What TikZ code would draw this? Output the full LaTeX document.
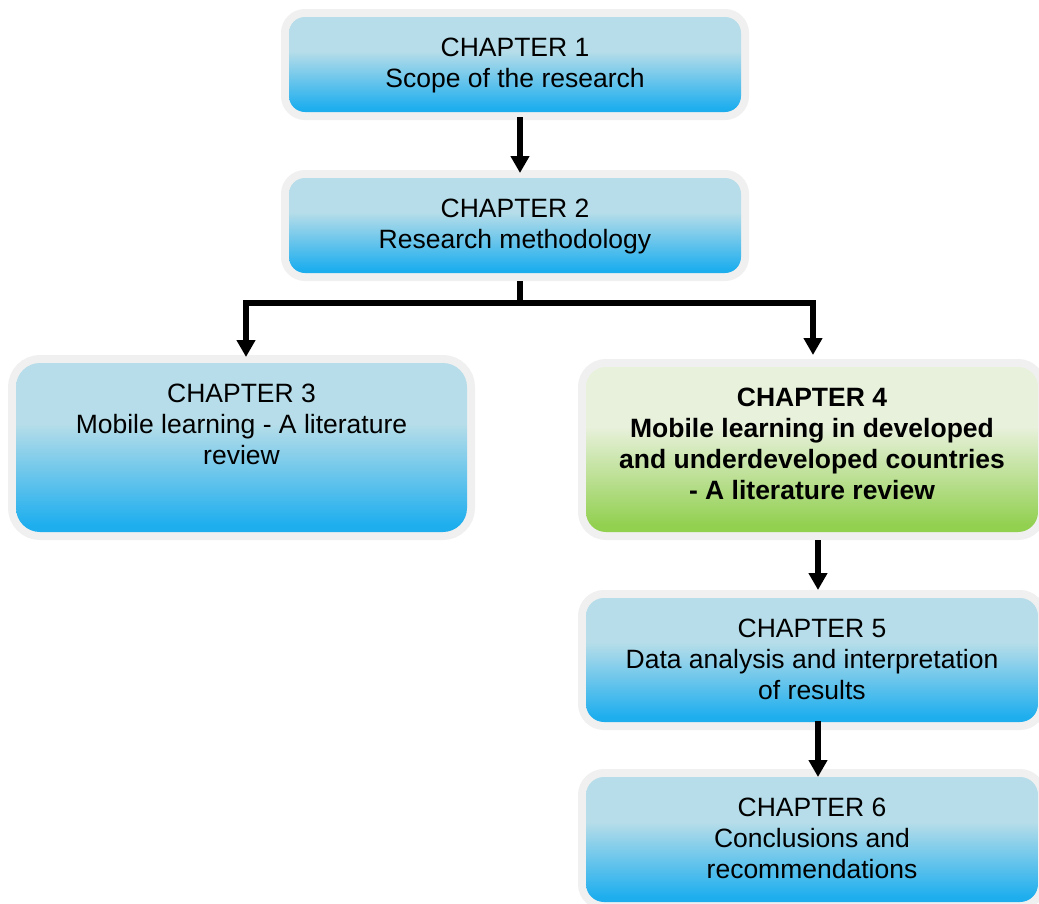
\documentclass[tikz,border=0pt]{standalone}
\usepackage{fontspec}
\setmainfont{Liberation Sans}
\usetikzlibrary{arrows.meta,calc}

\definecolor{bluetop}{RGB}{182,221,233}
\definecolor{bluebot}{RGB}{30,174,238}
\definecolor{greentop}{RGB}{232,241,220}
\definecolor{greenbot}{RGB}{146,208,80}
\definecolor{halo}{RGB}{240,240,240}

% vertical fills: pale upper part, stronger colour towards the bottom
\pgfdeclareverticalshading{blueshade}{100bp}{color(0bp)=(bluebot); color(27bp)=(bluebot); color(57bp)=(bluetop); color(100bp)=(bluetop)}
\pgfdeclareverticalshading{greenshade}{100bp}{color(0bp)=(greenbot); color(27bp)=(greenbot); color(57bp)=(greentop); color(100bp)=(greentop)}

% box text: fixed-size parbox, lines hung from the top
\newcommand\chtext[3]{\parbox[c][#2pt][t]{#1pt}{\centering\rule{0pt}{39pt}#3}}

\tikzset{
  chbox/.style={rectangle, rounded corners=#1, inner sep=0pt, outer sep=0pt,
    preaction={draw=halo, line width=16pt},
    font=\fontsize{26.5}{31}\selectfont, text=black},
  bluebox/.style={chbox=#1, shading=blueshade},
  greenbox/.style={chbox=#1, shading=greenshade},
  arr/.style={line width=5.5pt, -{Triangle[width=18pt,length=17pt]}},
}

\begin{document}
\begin{tikzpicture}[x=1pt,y=1pt]
\useasboundingbox (0,0) rectangle (1039,-903);

% chapter boxes
\node[bluebox=16] (b1) at (515,-64.5)
  {\chtext{452}{95}{CHAPTER 1\\Scope of the research}};
\node[bluebox=16] (b2) at (515,-225.5)
  {\chtext{452}{95}{CHAPTER 2\\Research methodology}};
\node[bluebox=24] (b3) at (241.5,-447.5)
  {\chtext{451}{169}{CHAPTER 3\\Mobile learning - A literature\\review}};
\node[greenbox=20] (b4) at (812,-449.5)
  {\chtext{452}{165}{\bfseries CHAPTER 4\\Mobile learning in developed\\and underdeveloped countries\\- A literature review}};
\node[bluebox=18] (b5) at (812,-660)
  {\chtext{452}{124}{CHAPTER 5\\Data analysis and interpretation\\of results}};
\node[bluebox=18] (b6) at (812,-839.5)
  {\chtext{452}{125}{CHAPTER 6\\Conclusions and\\recommendations}};

% connectors
\coordinate (split) at ($(b2.south)+(5,-30)$);
\draw[arr] ($(b1.south)+(5,-5)$) -- ($(b2.north)+(5,5)$);
\draw[arr] ($(b2.south)+(5,-8)$) -- (split) -| ($(b3.north)+(4.5,6)$);
\draw[arr] (split) -| ($(b4.north)+(1,12)$);
\draw[arr] ($(b4.south)+(6,-8)$) -- ($(b5.north)+(6,8)$);
\draw[arr] ($(b5.south)+(6,1)$) -- ($(b6.north)+(6,0)$);
\end{tikzpicture}
\end{document}
